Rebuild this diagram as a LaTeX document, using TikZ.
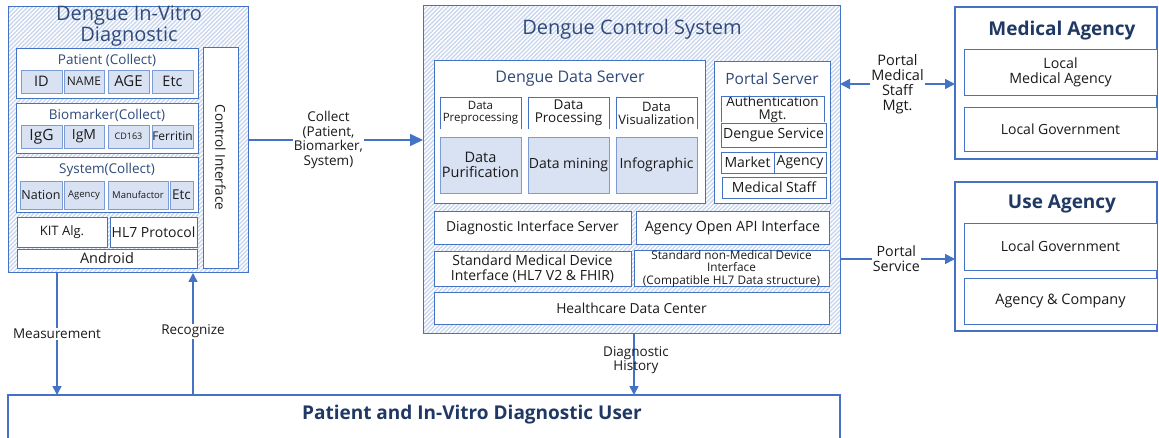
\documentclass[tikz,border=0pt]{standalone}
\usepackage{fontspec}
\setmainfont{Open Sans}
\usetikzlibrary{arrows.meta,patterns.meta}
\definecolor{bordc}{HTML}{4472C4}
\definecolor{fillc}{HTML}{D9E2F3}
\definecolor{hatchc}{HTML}{C9D6EE}
\definecolor{titc}{HTML}{2F4A7A}
\definecolor{navy}{HTML}{1F3864}
\definecolor{txt}{HTML}{1A1A1A}
\newcommand\fs[2]{\fontsize{#1}{#2}\selectfont}
\newcommand\bx[7]{\node[#6, minimum width={#4-#2}, minimum height={#5-#3}] (#1) at ({(#2+#4)/2},{(#3+#5)/2}) {#7};}
\tikzset{
  base/.style={inner sep=0pt, outer sep=0pt, align=center, text=txt},
  hatchbox/.style={base, draw=bordc, line width=1pt, pattern={Lines[angle=45,distance=3pt,line width=1.4pt]}, pattern color=hatchc},
  wbox/.style={base, draw=bordc, line width=0.9pt, fill=white},
  fbox/.style={base, draw=bordc!70, line width=0.9pt, fill=fillc},
  obox/.style={base, fill=white},
  thick box/.style={base, draw=bordc, line width=2.2pt, fill=white},
  ttl/.style={inner sep=0pt, align=center, text=titc},
  lbl/.style={inner sep=1pt, align=center, text=txt, fill=white},
  arr/.style={draw=bordc, line width=1.6pt, -{Triangle[length=10pt,width=10pt]}},
}
\begin{document}
\begin{tikzpicture}[x=1pt,y=-1pt]
\useasboundingbox (0,0) rectangle (1159,438);
% ---------- left: Dengue In-Vitro Diagnostic
\bx{dvd}{8}{7}{248}{273}{hatchbox}{}
\node[ttl, font=\fs{20}{19}] (dvdt) at (129,26) {Dengue In-Vitro\\Diagnostic};
\bx{pc}{16}{48}{198}{98}{wbox}{}
\node[ttl, font=\fs{13.5}{14}] (pct) at (107,60) {Patient (Collect)};
\bx{pid}{21}{70}{62}{93}{fbox,font=\fs{14.5}{15}}{ID}
\bx{pname}{64}{70}{104}{93}{fbox,font=\fs{12}{12}}{NAME}
\bx{page}{108}{70}{149}{93}{fbox,font=\fs{15}{15}}{AGE}
\bx{petc}{152}{70}{193}{93}{fbox,font=\fs{14.5}{15}}{Etc}
\bx{bc}{16}{103}{198}{153}{wbox}{}
\node[ttl, font=\fs{13.5}{14}] (bct) at (107,115) {Biomarker(Collect)};
\bx{bigg}{21}{125}{62}{148}{fbox,font=\fs{15.5}{15}}{IgG}
\bx{bigm}{64}{125}{104}{148}{fbox,font=\fs{14}{14}}{IgM}
\bx{bcd}{108}{125}{149}{148}{fbox,font=\fs{9}{9}}{CD163}
\bx{bfer}{152}{125}{193}{148}{fbox,font=\fs{12}{12}}{Ferritin}
\bx{sc}{16}{157}{198}{212}{wbox}{}
\node[ttl, font=\fs{13.5}{14}] (sct) at (107,170) {System(Collect)};
\bx{snat}{20}{181}{62}{209}{fbox,font=\fs{12.5}{12}}{Nation}
\bx{sagn}{64}{181}{104}{209}{fbox,font=\fs{9.5}{10}}{Agency}
\bx{sman}{108}{181}{168}{209}{fbox,font=\fs{9.5}{10}}{Manufactor}
\bx{setc}{170}{181}{193}{209}{fbox,font=\fs{13.5}{14}}{Etc}
\bx{kit}{17}{217}{107}{247}{wbox,font=\fs{13}{13}}{KIT Alg.}
\bx{hl7}{110}{217}{197}{247}{wbox,font=\fs{14}{14}}{HL7 Protocol}
\bx{andr}{17}{249}{197}{268}{wbox,font=\fs{14.5}{14}}{Android}
\bx{ci}{203}{47}{238}{268}{wbox}{}
\node[base, rotate=-90, font=\fs{13.5}{14}] (cit) at (ci.center) {Control Interface};
% ---------- Dengue Control System
\bx{dcs}{423}{6}{840}{333}{hatchbox}{}
\node[ttl, font=\fs{20}{20}] (dcst) at (632,29) {Dengue Control System};
\bx{dds}{434}{60}{705}{203}{wbox}{}
\node[ttl, font=\fs{16}{16}] (ddst) at (570,79) {Dengue Data Server};
\bx{dp1}{440}{97}{521}{129}{obox,font=\fs{11.5}{12}}{Data\\Preprocessing}
\bx{dp2}{528}{97}{609}{129}{obox,font=\fs{13.5}{13}}{Data\\Processing}
\bx{dp3}{616}{97}{697}{129}{obox,font=\fs{13}{13}}{Data\\Visualization}
\foreach \n in {dp1,dp2,dp3}{\draw[bordc, line width=0.9pt] (\n.south west) -- (\n.north west) -- (\n.north east) -- (\n.south east);}
\bx{pur}{440}{137}{521}{193}{fbox,font=\fs{14.5}{15}}{Data\\Purification}
\bx{mine}{528}{137}{609}{193}{fbox,font=\fs{14}{14}}{Data mining}
\bx{info}{616}{137}{697}{193}{fbox,font=\fs{14}{14}}{Infographic}
\bx{ps}{714}{61}{830}{203}{wbox}{}
\node[ttl, font=\fs{15.5}{16}] (pst) at (772,79) {Portal Server};
\bx{auth}{721}{98}{824}{121}{obox,font=\fs{13.5}{12.5}}{Authentication\\Mgt.}
\draw[bordc, line width=0.9pt] (auth.south west) -- (auth.north west) -- (auth.north east) -- (auth.south east);
\bx{dsv}{721}{123}{826}{147}{wbox,font=\fs{14}{14}}{Dengue Service}
\bx{mkt}{721}{152}{774}{173}{wbox,font=\fs{14}{14}}{Market}
\bx{agc}{774}{152}{826}{173}{wbox,font=\fs{14}{14}}{Agency}
\bx{mst}{722}{177}{826}{198}{wbox,font=\fs{14}{14}}{Medical Staff}
\bx{dis}{434}{211}{631}{244}{wbox,font=\fs{13.8}{14}}{Diagnostic Interface Server}
\bx{aoa}{636}{211}{829}{244}{wbox,font=\fs{14.2}{14}}{Agency Open API Interface}
\bx{smd}{434}{251}{631}{286}{wbox,font=\fs{14}{15}}{Standard Medical Device\\Interface (HL7 V2 \& FHIR)}
\bx{snm}{634}{251}{829}{286}{wbox,font=\fs{11.8}{12.5}}{Standard non-Medical Device\\Interface\\(Compatible HL7 Data structure)}
\bx{hdc}{434}{292}{829}{324}{wbox,font=\fs{13.8}{14}}{Healthcare Data Center}
% ---------- Medical Agency
\bx{ma}{955}{7}{1157}{159}{thick box}{}
\node[ttl, font=\fs{19}{19}\bfseries, text=navy] (mat) at (1062,31) {Medical Agency};
\bx{lma}{964}{49}{1157}{95}{wbox,font=\fs{14.2}{15}}{Local\\Medical Agency}
\bx{lgv}{964}{107}{1157}{151}{wbox,font=\fs{14}{14}}{Local Government}
% ---------- Use Agency
\bx{ua}{955}{182}{1157}{331}{thick box}{}
\node[ttl, font=\fs{19}{19}\bfseries, text=navy] (uat) at (1062,204) {Use Agency};
\bx{ulg}{964}{223}{1157}{270}{wbox,font=\fs{14}{14}}{Local Government}
\bx{uac}{964}{278}{1157}{324}{wbox,font=\fs{14.4}{14}}{Agency \& Company}
% ---------- User
\bx{user}{8}{395}{840}{448}{base, draw=bordc, line width=2pt, fill=white}{}
\node[inner sep=0pt, text=navy, font=\fs{19}{19}\bfseries] (usert) at (472,415) {Patient and In-Vitro Diagnostic User};
% ---------- connectors
\coordinate (pmy) at (0,84);
\coordinate (psy) at (0,259);
\coordinate (mx) at (57,0);
\coordinate (rx) at (193,0);
\coordinate (hx) at (634,0);
\draw[arr, -{Triangle[length=13pt,width=12pt]}] (dvd.east) -- (dvd.east -| dcs.west)
  node[lbl, pos=0.46, font=\fs{13.5}{14.7}] (collect) {Collect\\(Patient,\\Biomarker,\\System)};
\draw[arr, {Triangle[length=10pt,width=10pt]}-{Triangle[length=10pt,width=10pt]}] (dcs.east |- pmy) -- (ma.west |- pmy)
  node[lbl, midway, font=\fs{14.5}{15}] (pmsm) {Portal\\Medical\\Staff\\Mgt.};
\draw[arr] (dcs.east |- psy) -- (ua.west |- psy)
  node[lbl, pos=0.49, font=\fs{14.2}{15}] (psl) {Portal\\Service};
\draw[arr, -{Triangle[length=9pt,width=9pt]}] (dvd.south -| mx) -- (user.north -| mx)
  node[lbl, pos=0.5, font=\fs{13.5}{14}] (meas) {Measurement};
\draw[arr, -{Triangle[length=9pt,width=9pt]}] (user.north -| rx) -- (dvd.south -| rx)
  node[lbl, pos=0.52, font=\fs{13.5}{14}] (reco) {Recognize};
\draw[arr, -{Triangle[length=9pt,width=9pt]}] (dcs.south -| hx) -- (user.north -| hx);
\node[inner sep=0pt, align=center, text=txt, font=\fs{13.5}{14}] (dhist) at (636,360) {Diagnostic\\History};
\end{tikzpicture}
\end{document}
